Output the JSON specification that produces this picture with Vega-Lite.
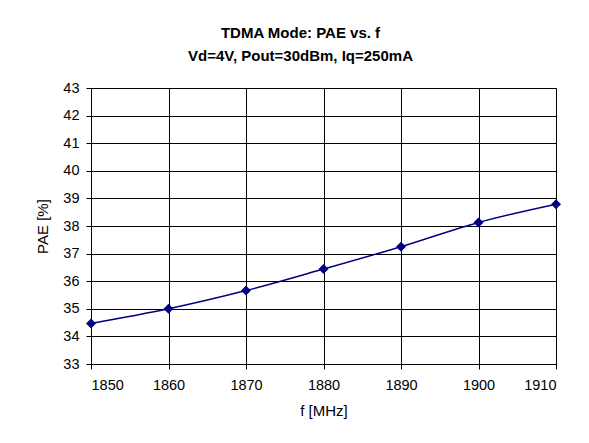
{
  "$schema": "https://vega.github.io/schema/vega-lite/v6.json",
  "autosize": {"type": "none"},
  "padding": {"left": 91, "top": 88, "right": 33, "bottom": 79},
  "width": 465,
  "height": 276,
  "background": "white",
  "title": {
    "text": ["TDMA Mode: PAE vs. f", "Vd=4V, Pout=30dBm, Iq=250mA"],
    "font": "Liberation Sans",
    "fontSize": 15,
    "fontWeight": "bold",
    "color": "black",
    "lineHeight": 23,
    "anchor": "middle",
    "frame": "group",
    "dx": -23,
    "baseline": "alphabetic",
    "offset": 4
  },
  "data": {
    "values": [
      {"f": 1850, "pae": 34.47},
      {"f": 1860, "pae": 35.0},
      {"f": 1870, "pae": 35.66},
      {"f": 1880, "pae": 36.44},
      {"f": 1890, "pae": 37.25},
      {"f": 1900, "pae": 38.13},
      {"f": 1910, "pae": 38.79}
    ]
  },
  "encoding": {
    "x": {
      "field": "f", "type": "quantitative",
      "scale": {"domain": [1850, 1910], "nice": false, "zero": false},
      "axis": {"values": [1850, 1860, 1870, 1880, 1890, 1900, 1910], "title": "f [MHz]", "format": "d", "labelPadding": 9, "titlePadding": 12}
    },
    "y": {
      "field": "pae", "type": "quantitative",
      "scale": {"domain": [33, 43], "nice": false, "zero": false},
      "axis": {"values": [33, 34, 35, 36, 37, 38, 39, 40, 41, 42, 43], "title": "PAE [%]", "labelPadding": 7, "titlePadding": 12}
    }
  },
  "layer": [
    {"mark": {"type": "line", "color": "#000080", "strokeWidth": 1.5, "interpolate": "monotone"}},
    {"mark": {"type": "point", "shape": "diamond", "filled": true, "color": "#000080", "opacity": 1, "size": 100}}
  ],
  "config": {
    "view": {"stroke": "#808080", "strokeWidth": 1},
    "axis": {
      "labelFont": "Liberation Sans",
      "labelFontSize": 14.5,
      "labelColor": "black",
      "titleFont": "Liberation Sans",
      "titleFontSize": 15,
      "titleFontWeight": "normal",
      "titleColor": "black",
      "domainColor": "black",
      "tickColor": "black",
      "tickSize": 5,
      "gridColor": "black",
      "gridOpacity": 1,
      "gridWidth": 1
    }
  }
}
